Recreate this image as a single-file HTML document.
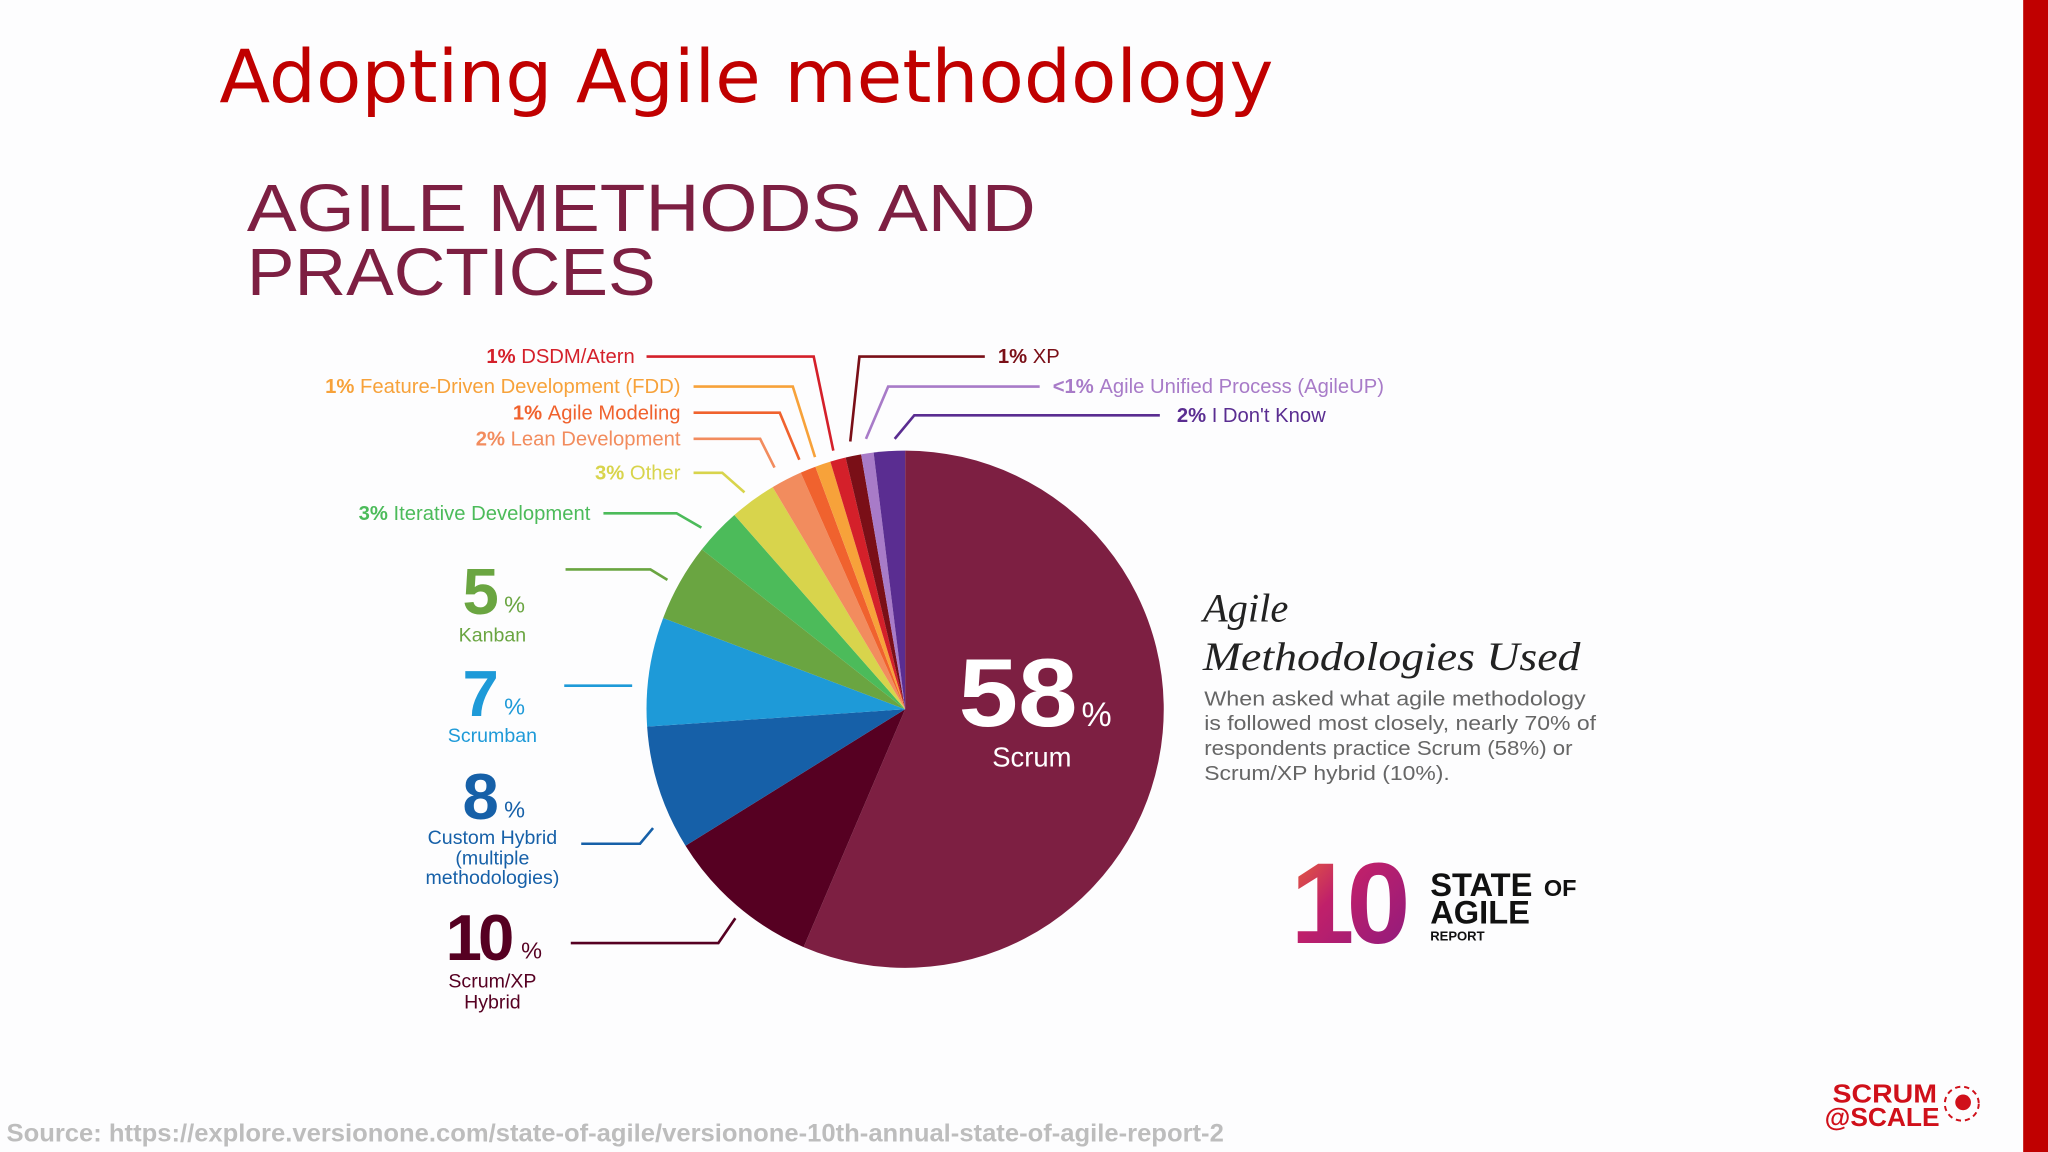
<!DOCTYPE html>
<html><head><meta charset="utf-8"><style>
html,body{margin:0;padding:0;background:#fff;}
svg{display:block}
</style></head><body>
<svg id="chart" width="2048" height="1152" viewBox="0 0 1568 882" xmlns="http://www.w3.org/2000/svg" font-family="Liberation Sans, DejaVu Sans, sans-serif">
<rect width="1568" height="882" fill="#fdfdfe"/>
<rect x="1549" y="0" width="19" height="882" fill="#c00000"/>
<text x="168" y="78" style="font-family:'DejaVu Sans',sans-serif" font-size="56" fill="#c00000" textLength="807" lengthAdjust="spacingAndGlyphs">Adopting Agile methodology</text>
<g fill="#7d1f42">
<text x="189" y="177" font-size="51" textLength="604" lengthAdjust="spacingAndGlyphs">AGILE METHODS AND</text>
<text x="189" y="226" font-size="51" textLength="313" lengthAdjust="spacingAndGlyphs">PRACTICES</text>
</g>
<g id="pie"></g>
<g id="labels"></g>
<g fill="#fff">
<text x="734" y="556" font-size="74" font-weight="bold" textLength="91" lengthAdjust="spacingAndGlyphs">58</text>
<text x="828" y="556" font-size="26">%</text>
<text x="790" y="587" font-size="21" text-anchor="middle">Scrum</text>
</g>
<g text-anchor="middle">
<text x="368" y="470" font-size="50" font-weight="bold" fill="#6aa541">5</text><text x="394" y="469" font-size="18" fill="#6aa541">%</text>
<text x="377" y="491" font-size="15" fill="#6aa541">Kanban</text>
<text x="368" y="548" font-size="50" font-weight="bold" fill="#1e9ad8">7</text><text x="394" y="547" font-size="18" fill="#1e9ad8">%</text>
<text x="377" y="568" font-size="15" fill="#1e9ad8">Scrumban</text>
<text x="368" y="627" font-size="50" font-weight="bold" fill="#1660a8">8</text><text x="394" y="626" font-size="18" fill="#1660a8">%</text>
<text x="377" y="646" font-size="15" fill="#1660a8">Custom Hybrid</text>
<text x="377" y="662" font-size="15" fill="#1660a8">(multiple</text>
<text x="377" y="677" font-size="15" fill="#1660a8">methodologies)</text>
<text x="366" y="735" font-size="50" font-weight="bold" fill="#560022" letter-spacing="-3">10</text><text x="407" y="734" font-size="18" fill="#560022">%</text>
<text x="377" y="756" font-size="15" fill="#560022">Scrum/XP</text>
<text x="377" y="772" font-size="15" fill="#560022">Hybrid</text>
</g>
<g>
<text x="921" y="476" style="font-family:'Liberation Serif',serif" font-style="italic" font-size="31" fill="#222">Agile</text>
<text x="921" y="513" style="font-family:'Liberation Serif',serif" font-style="italic" font-size="31" fill="#222" textLength="289" lengthAdjust="spacingAndGlyphs">Methodologies Used</text>
<g font-size="15.5" fill="#666">
<text x="922" y="540" textLength="292" lengthAdjust="spacingAndGlyphs">When asked what agile methodology</text>
<text x="922" y="559" textLength="300" lengthAdjust="spacingAndGlyphs">is followed most closely, nearly 70% of</text>
<text x="922" y="578" textLength="282" lengthAdjust="spacingAndGlyphs">respondents practice Scrum (58%) or</text>
<text x="922" y="597" textLength="188" lengthAdjust="spacingAndGlyphs">Scrum/XP hybrid (10%).</text>
</g></g>
<g>
<defs><linearGradient id="g10" x1="0" y1="0" x2="1" y2="1"><stop offset="0" stop-color="#f07030"/><stop offset="0.4" stop-color="#c0206a"/><stop offset="1" stop-color="#8a1a80"/></linearGradient></defs>
<text x="988" y="722" font-size="88" font-weight="bold" fill="url(#g10)" letter-spacing="-6">10</text>
<text x="1095" y="686" font-size="25" font-weight="bold" fill="#111">STATE</text><text x="1182" y="686" font-size="18" font-weight="bold" fill="#111">OF</text>
<text x="1095" y="707" font-size="25" font-weight="bold" fill="#111">AGILE</text>
<text x="1095" y="720" font-size="10" font-weight="bold" fill="#111">REPORT</text>
</g>
<g>
<text x="1403" y="844" font-size="20" font-weight="bold" fill="#d0101a" textLength="80" lengthAdjust="spacingAndGlyphs">SCRUM</text>
<text x="1397" y="862" font-size="20" font-weight="bold" fill="#d0101a" textLength="88" lengthAdjust="spacingAndGlyphs">@SCALE</text>
<circle cx="1502" cy="845" r="13" fill="none" stroke="#d0101a" stroke-width="1.5" stroke-dasharray="4 3"/>
<circle cx="1503" cy="844" r="6" fill="#d0101a"/>
</g>
<text x="5" y="874" font-size="19" font-weight="bold" fill="#bdbdbd" textLength="932" lengthAdjust="spacingAndGlyphs">Source: https://explore.versionone.com/state-of-agile/versionone-10th-annual-state-of-agile-report-2</text>
</svg>
<script>
const categories = ["Scrum","Scrum/XP Hybrid","Custom Hybrid","Scrumban","Kanban","Iterative Development","Other","Lean Development","Agile Modeling","Feature-Driven Development (FDD)","DSDM/Atern","XP","Agile Unified Process (AgileUP)","I Don't Know"];
const values = [58,10,8,7,5,3,3,2,1,1,1,1,0.8,2];
const valueLabels = ["58%","10%","8%","7%","5%","3%","3%","2%","1%","1%","1%","1%","<1%","2%"];
const colors = ["#7d1f42","#560022","#1660a8","#1e9ad8","#6aa541","#4cbb5a","#d8d44c","#f28c5e","#f0622e","#f7a23a","#d4202a","#7a0f17","#a87bc8","#5a2d91"];
const NS="http://www.w3.org/2000/svg";
const cx=693, cy=543, r=198;
const total=values.reduce((a,b)=>a+b,0);
function angleAt(v){return v/total*2*Math.PI;}
function pt(a,rr){return [cx+rr*Math.sin(a), cy-rr*Math.cos(a)];}
const pie=document.getElementById('pie');
let acc=0;
values.forEach((v,i)=>{
  const a0=angleAt(acc), a1=angleAt(acc+v); acc+=v;
  const p0=pt(a0,r), p1=pt(a1,r);
  const large=(a1-a0)>Math.PI?1:0;
  const p=document.createElementNS(NS,'path');
  p.setAttribute('d',`M${cx},${cy} L${p0[0]},${p0[1]} A${r},${r} 0 ${large} 1 ${p1[0]},${p1[1]} Z`);
  p.setAttribute('fill',colors[i]);
  
  
  pie.appendChild(p);
});
const lab=document.getElementById('labels');
const small=[
 [10,486,273,'end',495,623,638,345],
 [9,521,296,'end',531,607,624,350],
 [8,521,316,'end',531,597,612,352],
 [7,521,336,'end',531,582,593,358],
 [6,521,362,'end',531,553,570,377],
 [5,452,393,'end',462,518,537,404],
 [11,764,273,'start',754,658,651,338],
 [12,806,296,'start',796,680,663,336],
 [13,901,318,'start',888,700,685,336]
];
small.forEach(s=>{
  const [i,tx,ty,anc,lx,bx,ex,ey]=s;
  const pl=document.createElementNS(NS,'polyline');
  pl.setAttribute('points',`${lx},${ty} ${bx},${ty} ${ex},${ey}`);
  pl.setAttribute('fill','none');pl.setAttribute('stroke',colors[i]);pl.setAttribute('stroke-width','2');
  
  
  lab.appendChild(pl);
  const t=document.createElementNS(NS,'text');
  t.setAttribute('x',tx);t.setAttribute('y',ty+5);t.setAttribute('text-anchor',anc);
  t.setAttribute('font-size','15.5');t.setAttribute('fill',colors[i]);
  
  
  const b=document.createElementNS(NS,'tspan');b.setAttribute('font-weight','bold');b.textContent=valueLabels[i]+' ';
  t.appendChild(b);t.appendChild(document.createTextNode(categories[i]));
  lab.appendChild(t);
});
const big=[[4,433,436,498,511,444],[3,432,525,484,484,525],[2,445,646,490,500,634],[1,437,722,550,563,703]];
big.forEach(s=>{
  const [i,lx,ly,bx,ex,ey]=s;
  const pl=document.createElementNS(NS,'polyline');
  pl.setAttribute('points',`${lx},${ly} ${bx},${ly} ${ex},${ey}`);
  pl.setAttribute('fill','none');pl.setAttribute('stroke',colors[i]);pl.setAttribute('stroke-width','2');
  
  
  lab.appendChild(pl);
});
</script>
</body></html>
